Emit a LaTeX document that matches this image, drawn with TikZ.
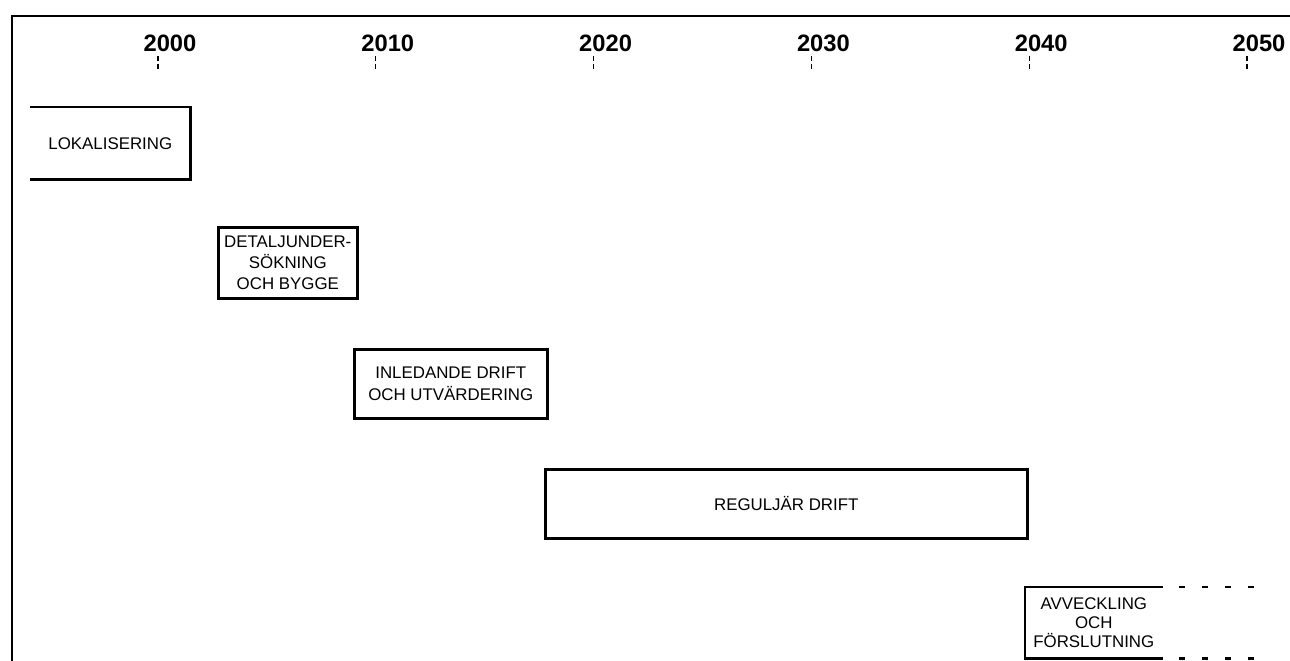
\documentclass[tikz,border=0pt]{standalone}
\usepackage{fontspec}
\setmainfont{Liberation Sans}

\begin{document}
\begin{tikzpicture}[x=0.02cm,y=-0.02cm,
    phase/.style={line width=1.5pt,anchor=north west,inner sep=0pt,align=center,
      font=\fontsize{9.6}{11.8}\selectfont},
    yearlabel/.style={font=\bfseries\fontsize{13.5}{16}\selectfont,inner sep=1pt},
    yeartick/.style={line width=0.6pt,dash pattern=on 2.8pt off 1.6pt}]
  \useasboundingbox (0,0) rectangle (1290,661);

  % frame
  \draw[line width=1.1pt] (12,661) -- (12,16) -- (1290,16);

  % time axis
  \foreach \yr [count=\i from 0] in {2000,2010,2020,2030,2040,2050} {
    \node[yearlabel] (y\yr) at (170+217.8*\i,43) {\yr};
    \draw[yeartick] (158+217.8*\i,56) -- ++(0,14);
  }

  % phases
  \node[phase,minimum width=3.16cm,minimum height=1.4cm] (lok) at (30,107) {LOKALISERING};
  \draw[line width=1.5pt] (lok.north west) -- (lok.north east) -- (lok.south east) -- (lok.south west);

  \node[phase,draw,minimum width=2.78cm,minimum height=1.42cm] (det) at (217,226)
    {DETALJUNDER-\\SÖKNING\\OCH BYGGE};
  \node[phase,draw,minimum width=3.86cm,minimum height=1.38cm,
    font=\fontsize{9.6}{13}\selectfont] (inl) at (353,348)
    {INLEDANDE DRIFT\\OCH UTVÄRDERING};
  \node[phase,draw,minimum width=9.64cm,minimum height=1.38cm] (reg) at (544,468)
    {REGULJÄR DRIFT};

  \node[phase,minimum width=2.7cm,minimum height=1.38cm,font=\fontsize{9.6}{10.8}\selectfont]
    (avv) at (1025,587) {AVVECKLING\\OCH\\FÖRSLUTNING};
  \draw[line width=1.5pt] (avv.north east) -- (avv.north west) -- (avv.south west) -- (avv.south east);
  \draw[line width=1.5pt,dash pattern=on 3.5pt off 9.5pt,dash phase=3.5pt]
    (avv.north east) -- ++(92,0) (avv.south east) -- ++(92,0);
\end{tikzpicture}
\end{document}
